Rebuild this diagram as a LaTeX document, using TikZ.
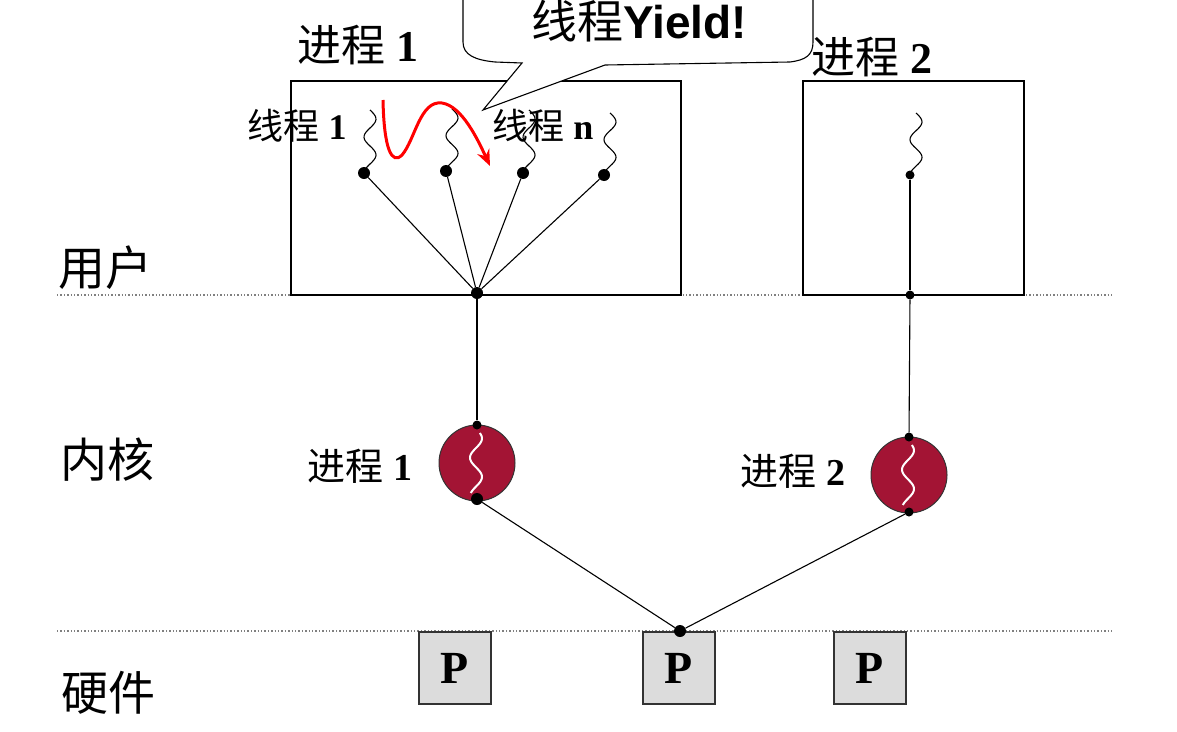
\documentclass[tikz,border=0pt]{standalone}
\usepackage{fontspec}
\setmainfont{Liberation Serif}
\newfontfamily\cjk{Noto Sans CJK SC}
\newfontfamily\arialb{Liberation Sans}
\usetikzlibrary{arrows.meta}
\definecolor{kred}{RGB}{163,20,52}
\definecolor{pgray}{RGB}{220,220,220}
\tikzset{
  dot/.style={circle,fill=black,inner sep=0pt,minimum size=12pt},
  sdot/.style={circle,fill=black,inner sep=0pt,minimum size=9pt},
  layer/.style={gray,dotted,line width=1.4pt},
  lbl/.style={font=\cjk\fontsize{47}{50}\selectfont,inner sep=0pt},
  tlbl/.style={font=\fontsize{36}{40}\selectfont,inner sep=0pt},
  klbl/.style={font=\fontsize{38}{42}\selectfont,inner sep=0pt},
  hlbl/.style={font=\fontsize{44}{48}\selectfont,inner sep=0pt},
  pbox/.style={draw=black!80,fill=pgray,line width=1.2pt,minimum width=72pt,minimum height=72pt,inner sep=0pt,font=\bfseries\fontsize{46}{50}\selectfont},
  kproc/.style={circle,draw=black!80,fill=kred,line width=1pt,minimum size=76pt,inner sep=0pt},
  link/.style={line width=1.1pt},
  box/.style={draw=black,line width=1.1pt}
}
\begin{document}
\begin{tikzpicture}[x=1pt,y=-1pt]
\useasboundingbox (0,0) rectangle (1177,731);
\clip (0,0) rectangle (1177,731);
% layer lines
\draw[layer] (57,295) -- (1112,295);
\draw[layer] (57,631) -- (1112,631);
% layer labels
\node[lbl] (user) at (105,268) {用户};
\node[lbl] (kernel) at (107,460) {内核};
\node[lbl] (hw) at (108,693) {硬件};
% process boxes
\draw[box] (291,81) rectangle (681,295);
\draw[box] (803,81) rectangle (1024,295);
\node[hlbl] (p1lbl) at (358,45) {{\cjk 进程} \textbf{1}};
\node[hlbl] (p2lbl) at (872,57) {{\cjk 进程} \textbf{2}};
% thread labels
\node[tlbl] (th1lbl) at (297,126) {{\cjk 线程} \textbf{1}};
\node[tlbl] (thnlbl) at (543,126) {{\cjk 线程} \textbf{n}};
% thread dots
\node[dot] (t1) at (364,173) {};
\node[dot] (t2) at (446,171) {};
\node[dot] (t3) at (523,173) {};
\node[dot] (t4) at (604,175) {};
\node[dot] (hub) at (477,293) {};
\node[sdot] (q1) at (910,175) {};
\node[sdot] (q2) at (910,295) {};
% wavy threads
\foreach \xx/\yt/\yb in {364/110/173, 446/109/171, 523/110/173, 604/113/175, 910/113/175}{
  \draw[line width=1.1pt] plot[smooth,domain=0:1,samples=40,variable=\t] ({\xx+6+6*sin(630*\t)},{\yt+\t*(\yb-\yt)});
}
% links in process 1
\foreach \n in {t1,t2,t3,t4}{\draw[link] (\n) -- (hub);}
\draw[link] (q1) -- (q2);
% kernel processes
\node[kproc] (k1) at (477,463) {};
\node[kproc] (k2) at (909,475) {};
\draw[white,line width=2pt] plot[smooth,domain=0:1,samples=40,variable=\t] ({476+6*sin(560*\t+40)},{433+\t*(493-433)});
\draw[white,line width=2pt] plot[smooth,domain=0:1,samples=40,variable=\t] ({908+6*sin(560*\t+40)},{445+\t*(505-445)});
\node[sdot] (k1t) at (477,425) {};
\node[dot] (k1b) at (477,499) {};
\node[sdot] (k2t) at (909,437) {};
\node[sdot] (k2b) at (909,512) {};
\draw[link] (hub) -- (k1t);
\draw[link] (q2) -- (k2t);
\node[klbl] (k1lbl) at (360,466) {{\cjk 进程} \textbf{1}};
\node[klbl] (k2lbl) at (793,471) {{\cjk 进程} \textbf{2}};
% processors
\node[pbox] (P1) at (455,668) {P};
\node[pbox] (P2) at (679,668) {P};
\node[pbox] (P3) at (870,668) {P};
\node[dot] (cpu) at (680,631) {};
\draw[link] (k1b) -- (cpu);
\draw[link] (k2b) -- (cpu);
% callout
\draw[line width=1.1pt,fill=white] (463,-5) -- (463,42) .. controls (463,55) and (475,60) .. (495,62) -- (522,63) -- (483,110) -- (605,65) -- (790,62) .. controls (806,60) and (813,55) .. (813,42) -- (813,-5);
\node[inner sep=0pt,font=\fontsize{46}{50}\selectfont] (yield) at (639,21) {{\cjk 线程}{\arialb\bfseries Yield!}};
% red arrow
\draw[red,line width=3pt,-{Stealth[length=16pt,width=13pt]}] (383,100) .. controls (384,150) and (392,165) .. (402,155) .. controls (415,140) and (420,100) .. (442,103) .. controls (462,106) and (478,140) .. (490,166);
\end{tikzpicture}
\end{document}
